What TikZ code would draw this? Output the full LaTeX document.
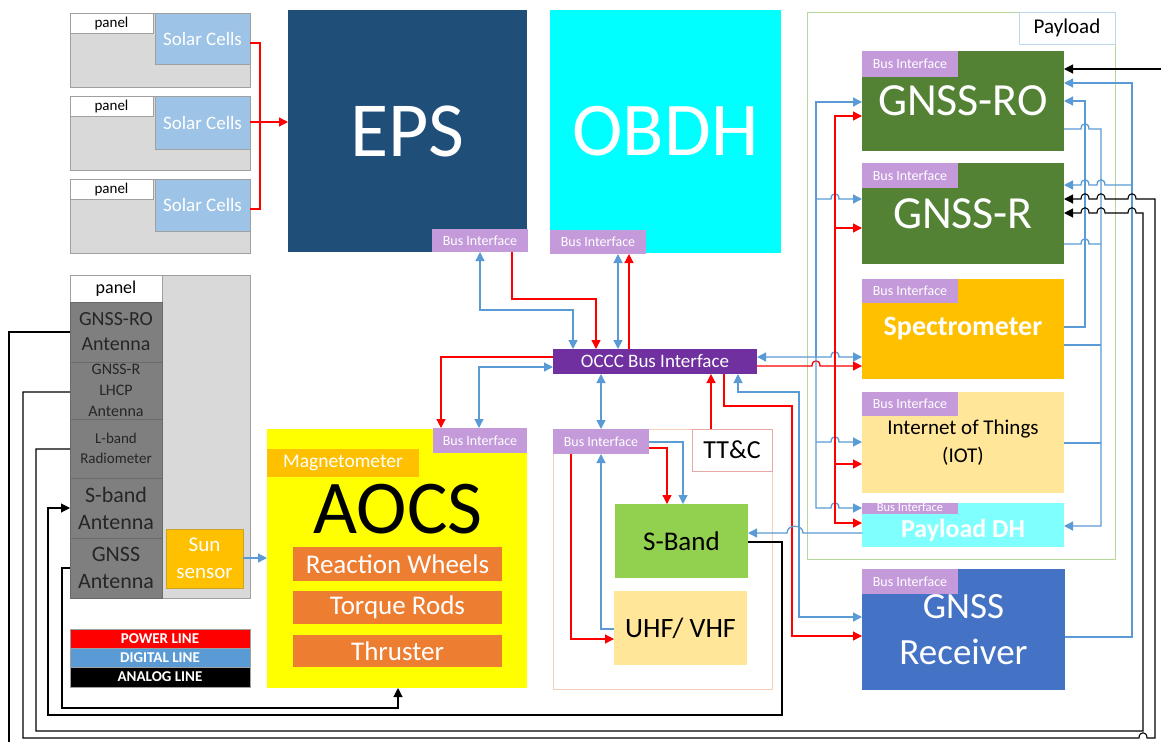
\documentclass[tikz,border=0pt]{standalone}
\usepackage{fontspec}
\setmainfont{Carlito}
\usetikzlibrary{arrows.meta}
\definecolor{epsblue}{HTML}{1F4E79}
\definecolor{bicol}{HTML}{C49ADB}
\definecolor{occcol}{HTML}{7030A0}
\definecolor{digi}{HTML}{5B9BD5}
\definecolor{gold}{HTML}{FFC000}
\definecolor{orng}{HTML}{ED7D31}
\definecolor{dgreen}{HTML}{548235}
\definecolor{lyellow}{HTML}{FFE699}
\definecolor{lcyan}{HTML}{80FFFF}
\definecolor{fcyan}{HTML}{00FFFF}
\definecolor{fyellow}{HTML}{FFFF00}
\definecolor{fred}{HTML}{FF0000}
\definecolor{rxblue}{HTML}{4472C4}
\definecolor{sgreen}{HTML}{92D050}
\definecolor{solar}{HTML}{9DC3E6}
\definecolor{pgray}{HTML}{D9D9D9}
\definecolor{pborder}{HTML}{A0A0A0}
\definecolor{antgray}{HTML}{7F7F7F}
\definecolor{antborder}{HTML}{6A6A6A}
\definecolor{peach}{HTML}{F4D0B8}
\definecolor{ttcpink}{HTML}{E8A8A8}
\definecolor{plgreen}{HTML}{B4D89C}
\definecolor{plblue}{HTML}{BDD7EE}
\definecolor{sunborder}{HTML}{C9A227}
\newcommand\fs[2]{\fontsize{#1}{#2}\selectfont}
\newcommand\hopr[2]{-- ({#1-4},#2) .. controls ({#1-4},{#2-7}) and ({#1+4},{#2-7}) .. ({#1+4},#2)}
\newcommand\hopl[2]{-- ({#1+4},#2) .. controls ({#1+4},{#2-7}) and ({#1-4},{#2-7}) .. ({#1-4},#2)}
\tikzset{
  bx/.style={anchor=north west, inner sep=0pt, outer sep=0pt, align=center},
  bi/.style={bx, fill=bicol, text=white, font=\fs{14}{15}, minimum width=96pt},
  pw/.style={draw=fred, line width=1.3pt},
  dg/.style={draw=digi, line width=1.3pt},
  an/.style={draw=black, line width=1.1pt},
  >={Triangle[length=9pt,width=9pt]}
}
\begin{document}
\begin{tikzpicture}[x=1pt,y=-1pt]
\useasboundingbox (0,0) rectangle (1161,742);
\fill[white] (0,0) rectangle (1161,742);

% ---------- solar panels ----------
\node[bx, fill=pgray, draw=pborder, minimum width=180pt, minimum height=74pt] (pan1) at (70,13) {};
\node[bx, fill=white, draw=pborder, minimum width=83pt, minimum height=20pt, font=\fs{15}{16}] (lbl1) at (70,13) {panel};
\node[bx, fill=solar, draw=pborder, minimum width=95pt, minimum height=51pt, text=white, font=\fs{19}{20}] (sc1) at (155,13) {Solar Cells};
\node[bx, fill=pgray, draw=pborder, minimum width=180pt, minimum height=74pt] (pan2) at (70,96) {};
\node[bx, fill=white, draw=pborder, minimum width=83pt, minimum height=20pt, font=\fs{15}{16}] (lbl2) at (70,96) {panel};
\node[bx, fill=solar, draw=pborder, minimum width=95pt, minimum height=53pt, text=white, font=\fs{19}{20}] (sc2) at (155,96) {Solar Cells};
\node[bx, fill=pgray, draw=pborder, minimum width=180pt, minimum height=74pt] (pan3) at (70,179) {};
\node[bx, fill=white, draw=pborder, minimum width=83pt, minimum height=20pt, font=\fs{15}{16}] (lbl3) at (70,179) {panel};
\node[bx, fill=solar, draw=pborder, minimum width=95pt, minimum height=52pt, text=white, font=\fs{19}{20}] (sc3) at (155,179) {Solar Cells};

% ---------- EPS / OBDH ----------
\node[bx, fill=epsblue, minimum width=239pt, minimum height=242pt, text=white, font=\fs{78}{80}] (eps) at (288,10) {EPS};
\node[bi, minimum height=23pt] (epsbi) at (432,229) {Bus Interface};
\node[bx, fill=fcyan, minimum width=231pt, minimum height=243pt, text=white, font=\fs{76}{80}] (obdh) at (550,10) {OBDH};
\node[bi, minimum height=24pt] (obdhbi) at (550,230) {Bus Interface};

% ---------- OCCC ----------
\node[bx, fill=occcol, minimum width=204pt, minimum height=25pt, text=white, font=\fs{19}{20}] (occc) at (553,349) {OCCC Bus Interface};

% ---------- left panel ----------
\node[bx, fill=pgray, draw=pborder, minimum width=180pt, minimum height=323pt] (gp) at (70,275) {};
\node[bx, fill=white, draw=pborder, minimum width=92pt, minimum height=27pt, font=\fs{18}{20}] (plbl) at (70,275) {panel};
\node[bx, fill=antgray, draw=antborder, minimum width=92pt, minimum height=60pt, text=black!85, font=\fs{20}{25}] (ant1) at (70,302) {GNSS-RO\\Antenna};
\node[bx, fill=antgray, draw=antborder, minimum width=92pt, minimum height=57pt, text=black!85, font=\fs{16}{21}] (ant2) at (70,362) {GNSS-R\\LHCP\\Antenna};
\node[bx, fill=antgray, draw=antborder, minimum width=92pt, minimum height=59pt, text=black!85, font=\fs{15}{20}] (ant3) at (70,419) {L-band\\Radiometer};
\node[bx, fill=antgray, draw=antborder, minimum width=92pt, minimum height=60pt, text=black!85, font=\fs{22}{27}] (ant4) at (70,478) {S-band\\Antenna};
\node[bx, fill=antgray, draw=antborder, minimum width=92pt, minimum height=60pt, text=black!85, font=\fs{22}{27}] (ant5) at (70,538) {GNSS\\Antenna};
\node[bx, fill=gold, draw=sunborder, minimum width=77pt, minimum height=59pt, text=white, font=\fs{21}{27}] (sun) at (166,529) {Sun\\sensor};

% ---------- legend ----------
\node[bx, fill=fred, draw=pborder, minimum width=180pt, minimum height=19pt, text=white, font=\bfseries\fs{15}{16}] (lgp) at (70,629) {POWER LINE};
\node[bx, fill=digi, draw=pborder, minimum width=180pt, minimum height=19pt, text=white, font=\bfseries\fs{15}{16}] (lgd) at (70,648) {DIGITAL LINE};
\node[bx, fill=black, draw=pborder, minimum width=180pt, minimum height=20pt, text=white, font=\bfseries\fs{15}{16}] (lga) at (70,667) {ANALOG LINE};

% ---------- AOCS ----------
\node[bx, fill=fyellow, minimum width=260pt, minimum height=259pt] (aocs) at (267,429) {};
\node[font=\fs{76}{80}, inner sep=0pt] (aocst) at (398,509) {AOCS};
\node[bi, minimum width=94pt, minimum height=25pt] (aocsbi) at (433,428) {Bus Interface};
\node[bx, fill=gold, minimum width=152pt, minimum height=28pt, text=white, font=\fs{19.5}{20}] (mag) at (267,449) {Magnetometer};
\node[bx, fill=orng, minimum width=209pt, minimum height=34pt, text=white, font=\fs{27}{28}] (rw) at (293,547) {Reaction Wheels};
\node[bx, fill=orng, minimum width=209pt, minimum height=33pt, text=white, font=\fs{27}{28}] (tr) at (293,591) {Torque Rods};
\node[bx, fill=orng, minimum width=209pt, minimum height=32pt, text=white, font=\fs{27}{28}] (thr) at (293,635) {Thruster};

% ---------- comms ----------
\node[bx, draw=peach, line width=1pt, minimum width=219pt, minimum height=260pt] (comm) at (553,429) {};
\node[bi, minimum height=25pt] (cbi) at (553,429) {Bus Interface};
\node[bx, fill=white, draw=ttcpink, line width=1pt, minimum width=80pt, minimum height=42pt, font=\fs{26}{28}] (ttc) at (692,429) {TT\&C};
\node[bx, fill=sgreen, minimum width=133pt, minimum height=74pt, font=\fs{27}{30}] (sb) at (615,504) {S-Band};
\node[bx, fill=lyellow, minimum width=133pt, minimum height=74pt, font=\fs{28}{30}] (uhf) at (614,591) {UHF/ VHF};

% ---------- payload ----------
\node[bx, draw=plgreen, line width=1pt, minimum width=308pt, minimum height=547pt] (pl) at (807,12) {};
\node[bx, fill=white, draw=plblue, line width=1pt, minimum width=96pt, minimum height=32pt, font=\fs{21}{24}] (pllbl) at (1019,12) {Payload};
\node[bx, fill=dgreen, minimum width=202pt, minimum height=100pt, text=white, font=\fs{46}{48}] (gro) at (862,51) {GNSS-RO};
\node[bi, minimum height=26pt] (grobi) at (862,51) {Bus Interface};
\node[bx, fill=dgreen, minimum width=202pt, minimum height=101pt, text=white, font=\fs{46}{48}] (gr) at (862,163) {GNSS-R};
\node[bi, minimum height=25pt] (grbi) at (862,163) {Bus Interface};
\node[bx, fill=gold, minimum width=202pt, minimum height=100pt, text=white, font=\bfseries\fs{28}{30}] (spec) at (862,279) {Spectrometer};
\node[bi, minimum height=24pt] (specbi) at (862,279) {Bus Interface};
\node[bx, fill=lyellow, minimum width=202pt, minimum height=101pt, font=\fs{21}{28}] (iot) at (862,392) {Internet of Things\\(IOT)};
\node[bi, minimum height=24pt] (iotbi) at (862,392) {Bus Interface};
\node[bx, fill=lcyan, minimum width=202pt, minimum height=44pt] (pdh) at (862,503) {};
\node[text=white, font=\bfseries\fs{26}{28}, inner sep=0pt] (pdht) at (963,530) {Payload DH};
\node[bi, minimum height=11pt, text height=7pt, text depth=1pt, font=\fs{12.5}{13}] (pdhbi) at (862,503) {Bus Interface};
\node[bx, fill=rxblue, minimum width=203pt, minimum height=121pt, text=white, font=\fs{37}{46}] (rx) at (862,569) {GNSS\\Receiver};
\node[bi, minimum height=25pt] (rxbi) at (862,569) {Bus Interface};

% ---------- free ends ----------
\coordinate (edgeR) at (1161,69);
\coordinate (edgeB) at (9,742);

% ---------- solar power ----------
\draw[pw] (sc1.east |- 0,43) -- (260,43) -- (260,209) -- (sc3.east |- 0,209);
\draw[pw,->] (sc2.east |- 0,122) -- (eps.west |- 0,122);

% ---------- around OCCC ----------
\draw[dg,<->] (epsbi.south -| 480,0) -- (480,310) -| (occc.north -| 573,0);
\draw[pw,->] (epsbi.south -| 512,0) |- (596,299) -- (occc.north -| 596,0);
\draw[dg,<->] (obdhbi.south -| 618,0) -- (occc.north -| 618,0);
\draw[pw,->] (occc.north -| 629,0) -- (obdhbi.south -| 629,0);
\draw[pw,->] (occc.west |- 0,357) -| (aocsbi.north -| 441,0);
\draw[dg,<->] (aocsbi.north -| 479,0) |- (occc.west |- 0,367);
\draw[dg,<->] (occc.south -| 601,0) -- (cbi.north -| 601,0);
\draw[pw,->] (ttc.north -| 711,0) -- (occc.south -| 711,0);
\draw[dg,->] (sun.east |- 0,558) -- (aocs.west |- 0,558);

% ---------- comms internal ----------
\draw[pw,->] (cbi.east |- 0,448) -| (sb.north -| 667,0);
\draw[dg,->] (cbi.east |- 0,442) -| (sb.north -| 683,0);
\draw[pw,->] (cbi.south -| 571,0) |- (uhf.west |- 0,639);
\draw[dg,->] (uhf.west |- 0,629) -| (cbi.south -| 601,0);

% ---------- OCCC to GNSS receiver ----------
\draw[pw,->] (occc.south -| 724,0) |- (792,406) |- (rx.west |- 0,636);
\draw[dg,<->] (occc.south -| 738,0) |- (799,392) |- (rx.west |- 0,617);

% ---------- OCCC to payload buses ----------
\draw[dg,<->] (occc.east |- 0,357) \hopr{835}{357} -- (spec.west |- 0,357);
\draw[pw,->] (occc.east |- 0,366) \hopr{816}{366} -- (spec.west |- 0,366);
\draw[dg,->] (816,357) |- (gro.west |- 0,102);
\draw[dg,->] (816,357) -- (816,508) \hopr{835}{508} -- (pdh.west |- 0,508);
\draw[dg,->] (816,199) \hopr{835}{199} -- (gr.west |- 0,199);
\draw[dg,->] (816,442) \hopr{835}{442} -- (iot.west |- 0,442);
\draw[pw,->] (835,366) |- (gro.west |- 0,116);
\draw[pw,->] (835,366) |- (pdh.west |- 0,523);
\draw[pw,->] (835,228) -- (gr.west |- 0,228);
\draw[pw,->] (835,464) -- (iot.west |- 0,464);
\draw[dg,->] (pdh.west |- 0,533) -- (803,533) .. controls (803,524) and (787,524) .. (787,533) -- (sb.east |- 0,533);

% ---------- right side ----------
\draw[an,->] (edgeR) -- (gro.east |- edgeR);
\draw[dg,->] (rx.east |- 0,637) -| (1132,83) -- (gro.east |- 0,83);
\draw[dg,->] (1132,185) \hopl{1101}{185} \hopl{1085}{185} -- (gr.east |- 0,185);
\draw[dg,->] (spec.east |- 0,327) -| (1085,101) -- (gro.east |- 0,101);
\draw[dg,->] (gro.east |- 0,129) \hopr{1085}{129} -- (1101,129) -- (1101,526) -- (pdh.east |- 0,526);
\draw[dg] (gr.east |- 0,244) \hopr{1085}{244} -- (1101,244);
\draw[dg] (spec.east |- 0,345) -- (1101,345);
\draw[dg] (iot.east |- 0,443) -- (1101,443);

% ---------- analog lines ----------
\draw[an] (ant1.west |- 0,332) -- (9,332) -- (edgeB);
\draw[an,->] (ant2.west |- 0,392) -- (23,392) -- (23,738) \hopr{1143}{738} -- (1155,738) -- (1155,199) \hopl{1132}{199} \hopl{1101}{199} \hopl{1085}{199} -- (gr.east |- 0,199);
\draw[an,->] (ant3.west |- 0,449) -- (36,449) -- (36,731) -- (1143,731) -- (1143,213) \hopl{1132}{213} \hopl{1101}{213} \hopl{1085}{213} -- (gr.east |- 0,213);
\draw[an,->] (sb.east |- 0,542) -| (782,715) -| (48,508) -- (ant4.west |- 0,508);
\draw[an,->] (ant5.west |- 0,568) -- (62,568) -- (62,708) -| (aocs.south -| 398,0);
\end{tikzpicture}
\end{document}
